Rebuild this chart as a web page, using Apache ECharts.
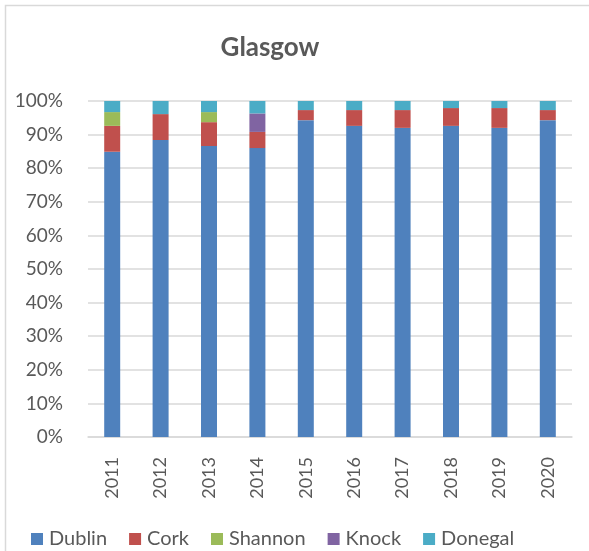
<!DOCTYPE html>
<html>
<head>
<meta charset="utf-8">
<script src="https://cdn.jsdelivr.net/npm/echarts@6/dist/echarts.min.js"></script>
<style>
  html, body { margin: 0; padding: 0; background: #fff; }
  #chart { width: 589px; height: 551px; }
</style>
</head>
<body>
<div id="chart"></div>
<script>
// Share of passengers by airport, Glasgow route (percent of yearly total)
const years = ['2011', '2012', '2013', '2014', '2015', '2016', '2017', '2018', '2019', '2020'];
const dublin  = [84.9, 88.4, 86.6, 86.0, 94.3, 92.6, 92.0, 92.6, 92.0, 94.3];
const cork    = [7.7, 7.7, 7.1, 4.8, 3.0, 4.7, 5.3, 5.3, 5.9, 3.0];
const shannon = [4.1, 0, 3.0, 0, 0, 0, 0, 0, 0, 0];
const knock   = [0, 0, 0, 5.5, 0, 0, 0, 0, 0, 0];
const donegal = [3.3, 3.9, 3.3, 3.7, 2.7, 2.7, 2.7, 2.1, 2.1, 2.7];
const yTicks = [0, 10, 20, 30, 40, 50, 60, 70, 80, 90, 100];

const seriesDefs = [
  { name: 'Dublin',  data: dublin,  color: '#4F81BD' },
  { name: 'Cork',    data: cork,    color: '#C0504D' },
  { name: 'Shannon', data: shannon, color: '#9BBB59' },
  { name: 'Knock',   data: knock,   color: '#8064A2' },
  { name: 'Donegal', data: donegal, color: '#4BACC6' }
];

const textColor = '#595959';
const font = 'Lato, "Open Sans", sans-serif';

const chart = echarts.init(document.getElementById('chart'));
chart.setOption({
  animation: false,
  backgroundColor: '#fff',
  graphic: [{
    type: 'rect',
    shape: { x: 5.5, y: 5.5, width: 600, height: 600 },
    style: { fill: 'none', stroke: '#D9D9D9', lineWidth: 1.5 },
    silent: true
  }],
  title: {
    text: 'Glasgow',
    left: 265,
    top: 30,
    textAlign: 'center',
    textStyle: { fontFamily: font, fontSize: 26, fontWeight: 'bold', color: textColor }
  },
  legend: {
    bottom: -3,
    left: 26,
    itemWidth: 12,
    itemHeight: 12,
    itemGap: 22,
    icon: 'rect',
    textStyle: { fontFamily: font, fontSize: 20, color: textColor, padding: [0, 0, 0, 1] },
    data: seriesDefs.map(s => s.name)
  },
  grid: { left: 88, right: 17, top: 101, bottom: 114, containLabel: false },
  xAxis: {
    type: 'category',
    data: years,
    axisLine: { lineStyle: { color: '#D9D9D9', width: 1.5 } },
    axisTick: { show: false },
    axisLabel: { rotate: 90, margin: 20, fontFamily: font, fontSize: 18, color: textColor }
  },
  yAxis: {
    type: 'value',
    min: yTicks[0],
    max: yTicks[yTicks.length - 1],
    interval: 10,
    axisLine: { show: false },
    axisTick: { show: false },
    splitLine: { lineStyle: { color: '#D9D9D9', width: 1.5 } },
    axisLabel: { formatter: '{value}%', margin: 25, fontFamily: font, fontSize: 19, color: textColor }
  },
  series: seriesDefs.map(s => ({
    name: s.name,
    type: 'bar',
    stack: 'total',
    barWidth: 16,
    data: s.data,
    itemStyle: { color: s.color }
  }))
});
</script>
</body>
</html>
